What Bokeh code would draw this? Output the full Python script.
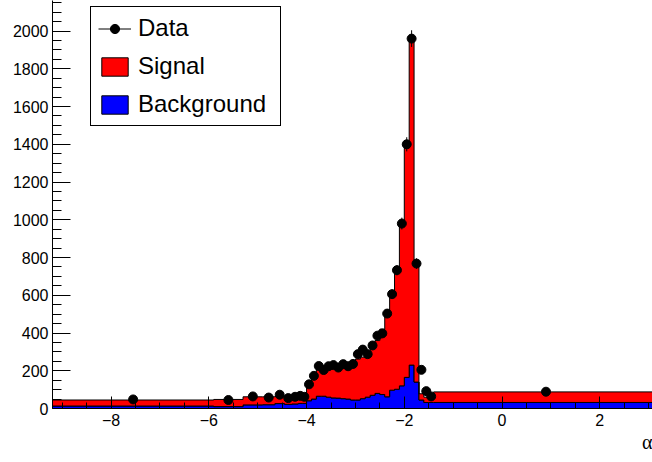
from bokeh.plotting import figure
from bokeh.models import (Range1d, SingleIntervalTicker, Legend, LegendItem, Title,
                          ColumnDataSource)
from bokeh.embed import file_html
from bokeh.resources import INLINE

# ---------------- data ----------------
bin_edges = [-9.2, -5.9, -5.3, -4.9, -4.65, -4.45, -4.3, -4.17, -4.09, -4.0,
             -3.9, -3.8, -3.7, -3.6, -3.5, -3.4, -3.3, -3.2, -3.1, -3.0,
             -2.9, -2.8, -2.7, -2.6, -2.5, -2.4, -2.3, -2.2, -2.1, -2.0,
             -1.9, -1.8, -1.7, -1.6, -1.5, -1.4, 3.2]

background = [13, 10, 19, 20, 26, 22, 24, 27, 27,
              41, 50, 65, 65, 60, 56, 55, 52, 50, 45, 45, 52, 60, 70, 80, 74,
              62, 97, 102, 120, 165, 230, 140, 45, 32, 32,
              32]

signal = [32, 38, 43, 42, 38, 44, 42, 39, 37,
          79, 120, 147, 150, 157, 162, 165, 170, 175, 190, 217, 220, 230, 252, 280, 346,
          433, 503, 633, 855, 1215, 1720, 630, 33, 28, 20,
          56]

data_counts = [48, 45, 64, 58, 73, 55, 62, 67, 62,
               128, 173, 225, 204, 224, 230, 217, 235, 224, 236, 288, 312, 288, 334, 386, 398,
               503, 606, 733, 980, 1400, 1960, 768, 205, 92, 64,
               89]

x_tick_values = [-8, -6, -4, -2, 0, 2]
x_tick_labels = ["\u22128", "\u22126", "\u22124", "\u22122", "0", "2"]
x_title = "\u03b1"

# ---------------- derived geometry ----------------
def step_outline(edges, heights):
    xs, ys = [], []
    for i, h in enumerate(heights):
        xs += [edges[i], edges[i + 1]]
        ys += [h, h]
    return xs, ys

stack_top = [b + s for b, s in zip(background, signal)]
bx, by = step_outline(bin_edges, background)
tx, ty = step_outline(bin_edges, stack_top)

blue_x = [bin_edges[0]] + bx + [bin_edges[-1]]
blue_y = [0] + by + [0]
red_x = tx + bx[::-1]
red_y = ty + by[::-1]

centers = [(bin_edges[i] + bin_edges[i + 1]) / 2 for i in range(len(data_counts))]
errs = [c ** 0.5 for c in data_counts]
pts = ColumnDataSource(dict(x=centers, y=data_counts,
                            lo=[c - e for c, e in zip(data_counts, errs)],
                            hi=[c + e for c, e in zip(data_counts, errs)]))

# ---------------- figure ----------------
p = figure(width=652, height=462, x_range=Range1d(-9.2, 3.08), y_range=Range1d(0, 2162),
           output_backend="svg", toolbar_location=None,
           min_border_left=52, min_border_right=0, min_border_top=0, min_border_bottom=54)
p.background_fill_color = "white"
p.border_fill_color = "white"
p.outline_line_color = None
p.xgrid.visible = False
p.ygrid.visible = False

blue_r = p.patch(blue_x, blue_y, fill_color="#0000ff", line_color="black", line_width=1)
red_r = p.patch(red_x, red_y, fill_color="#ff0000", line_color="black", line_width=1)
err_r = p.segment(x0="x", y0="lo", x1="x", y1="hi", source=pts, line_color="black", line_width=1)
pts_r = p.scatter(x="x", y="y", source=pts, size=9, marker="circle",
                  fill_color="black", line_color="black")

for ax in (p.xaxis[0], p.yaxis[0]):
    ax.axis_line_color = "black"
    ax.major_tick_line_color = "black"
    ax.minor_tick_line_color = "black"
    ax.major_label_text_color = "black"
    ax.major_label_text_font = "Liberation Sans"
    ax.major_label_text_font_size = "16px"
    ax.major_tick_out = 0
    ax.minor_tick_out = 0

p.xaxis.ticker = SingleIntervalTicker(interval=2, num_minor_ticks=4)
p.xaxis.major_tick_in = 12
p.xaxis.minor_tick_in = 6
p.xaxis.major_label_standoff = 5
p.xaxis.major_label_overrides = dict(zip(x_tick_values, x_tick_labels))

p.yaxis.ticker = SingleIntervalTicker(interval=200, num_minor_ticks=4)
p.yaxis.major_tick_in = 18
p.yaxis.minor_tick_in = 9
p.yaxis.major_label_standoff = 4

legend = Legend(items=[LegendItem(label="Data", renderers=[err_r, pts_r]),
                       LegendItem(label="Signal", renderers=[red_r]),
                       LegendItem(label="Background", renderers=[blue_r])],
                location=(38, 282), margin=0, padding=7, spacing=10,
                glyph_width=33, glyph_height=23, label_height=23, label_width=135,
                label_standoff=7,
                label_text_font="Liberation Sans", label_text_font_size="24px",
                label_text_color="black",
                border_line_color="black", border_line_width=1, border_line_alpha=1,
                background_fill_color="white", background_fill_alpha=1)
p.add_layout(legend)

p.add_layout(Title(text=x_title, align="right", text_font="Liberation Serif",
                   text_font_size="20px", text_font_style="normal", text_color="black",
                   standoff=0, offset=0), "below")

open("out.html", "w").write(file_html(p, INLINE))
